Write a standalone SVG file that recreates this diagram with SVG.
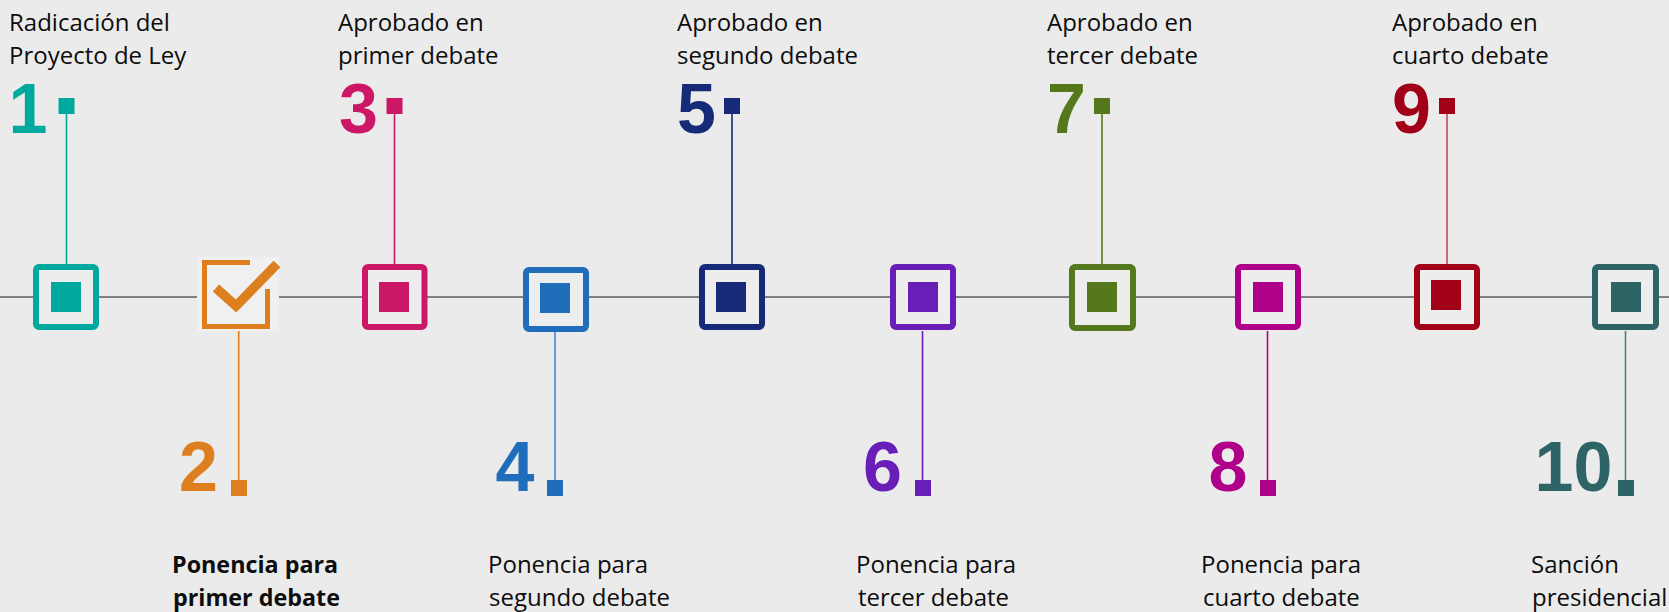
<svg xmlns="http://www.w3.org/2000/svg" width="1669" height="612" viewBox="0 0 1669 612">
<style>
.lbl{font-family:"Open Sans","Liberation Sans",sans-serif;font-size:24px;fill:#0d0d0d}
.b{font-weight:bold;font-size:23.3px}
.num{font-family:"Liberation Sans",Arial,sans-serif;font-weight:bold;font-size:70px;text-anchor:middle}
.box{fill:#ededed;stroke-width:6}
.conn line{stroke-width:1.6}
</style>
<rect width="1669" height="612" fill="#ebebeb"/>
<g id="connectors">
<line x1="0" y1="297" x2="1669" y2="297" stroke="#7f7f7f" stroke-width="2.2"/>
<g class="conn">
<line x1="66.5" y1="110" x2="66.5" y2="265" stroke="#00a99d"/>
<line x1="238.7" y1="331" x2="238.7" y2="485" stroke="#dd7f1e"/>
<line x1="394.5" y1="110" x2="394.5" y2="265" stroke="#cc1766"/>
<line x1="555" y1="331" x2="555" y2="485" stroke="#4a8ad0"/>
<line x1="732" y1="110" x2="732" y2="265" stroke="#162a78"/>
<line x1="922.5" y1="331" x2="922.5" y2="485" stroke="#6a1eb8"/>
<line x1="1102" y1="110" x2="1102" y2="265" stroke="#56781c"/>
<line x1="1267.5" y1="331" x2="1267.5" y2="485" stroke="#ae0088"/>
<line x1="1447" y1="110" x2="1447" y2="265" stroke="#c04a5a"/>
<line x1="1625.5" y1="331" x2="1625.5" y2="485" stroke="#4f7f82"/>
</g>
</g>
<g id="step1">
<rect class="box" x="36" y="267" width="60" height="60" rx="3" stroke="#00a99d"/>
<rect x="51" y="282" width="30" height="30" fill="#00a99d"/>
<rect x="58.5" y="98" width="16" height="16" fill="#00a99d"/>
<text class="num" x="28" y="133" fill="#00a99d">1</text>
<text class="lbl" x="9" y="31">Radicación del</text>
<text class="lbl" x="9" y="64">Proyecto de Ley</text>
</g>
<g id="step2">
<rect x="197" y="257" width="82" height="74" fill="#f0f0f0"/>
<path d="M250 262.5 H204.5 V326.5 H267.5 V289" fill="none" stroke="#dd7f1e" stroke-width="5"/>
<polyline points="216,288 236,306 277,264" fill="none" stroke="#dd7f1e" stroke-width="9.5"/>
<rect x="231" y="480" width="16" height="16" fill="#dd7f1e"/>
<text class="num" x="198.5" y="491" fill="#dd7f1e">2</text>
<text class="lbl b" x="172" y="573">Ponencia para</text>
<text class="lbl b" x="173" y="606">primer debate</text>
</g>
<g id="step3">
<rect class="box" x="365" y="267" width="59.5" height="60" rx="3" stroke="#cc1766"/>
<rect x="379" y="282" width="30" height="30" fill="#cc1766"/>
<rect x="386.5" y="98" width="16" height="16" fill="#cc1766"/>
<text class="num" x="358.5" y="133" fill="#cc1766">3</text>
<text class="lbl" x="338" y="31">Aprobado en</text>
<text class="lbl" x="338" y="64">primer debate</text>
</g>
<g id="step4">
<rect class="box" x="526" y="270" width="60" height="59" rx="3" stroke="#1f6dbb"/>
<rect x="540" y="283" width="30" height="30" fill="#1f6dbb"/>
<rect x="547" y="480" width="16" height="16" fill="#1f6dbb"/>
<text class="num" x="515" y="491" fill="#1f6dbb">4</text>
<text class="lbl" x="488" y="573">Ponencia para</text>
<text class="lbl" x="489" y="606">segundo debate</text>
</g>
<g id="step5">
<rect class="box" x="702" y="267" width="60" height="60" rx="3" stroke="#162a78"/>
<rect x="716" y="282" width="30" height="30" fill="#162a78"/>
<rect x="724" y="98" width="16" height="16" fill="#162a78"/>
<text class="num" x="696.5" y="133" fill="#162a78">5</text>
<text class="lbl" x="677" y="31">Aprobado en</text>
<text class="lbl" x="677" y="64">segundo debate</text>
</g>
<g id="step6">
<rect class="box" x="893" y="267" width="60" height="60" rx="3" stroke="#6a1eb8"/>
<rect x="908" y="282" width="30" height="30" fill="#6a1eb8"/>
<rect x="915" y="480" width="16" height="16" fill="#6a1eb8"/>
<text class="num" x="882.5" y="491" fill="#6a1eb8">6</text>
<text class="lbl" x="856" y="573">Ponencia para</text>
<text class="lbl" x="858" y="606">tercer debate</text>
</g>
<g id="step7">
<rect class="box" x="1072" y="267" width="61" height="61" rx="3" stroke="#56781c"/>
<rect x="1087" y="282" width="30" height="30" fill="#56781c"/>
<rect x="1094" y="98" width="16" height="16" fill="#56781c"/>
<text class="num" x="1066.5" y="133" fill="#56781c">7</text>
<text class="lbl" x="1047" y="31">Aprobado en</text>
<text class="lbl" x="1047" y="64">tercer debate</text>
</g>
<g id="step8">
<rect class="box" x="1238" y="267" width="60" height="60" rx="3" stroke="#ae0088"/>
<rect x="1253" y="282" width="30" height="30" fill="#ae0088"/>
<rect x="1260" y="480" width="16" height="16" fill="#ae0088"/>
<text class="num" x="1228" y="491" fill="#ae0088">8</text>
<text class="lbl" x="1201" y="573">Ponencia para</text>
<text class="lbl" x="1203" y="606">cuarto debate</text>
</g>
<g id="step9">
<rect class="box" x="1417" y="267" width="60" height="60" rx="3" stroke="#a10018"/>
<rect x="1431" y="280" width="30" height="30" fill="#a10018"/>
<rect x="1439" y="98" width="16" height="16" fill="#a10018"/>
<text class="num" x="1411.5" y="133" fill="#a10018">9</text>
<text class="lbl" x="1392" y="31">Aprobado en</text>
<text class="lbl" x="1392" y="64">cuarto debate</text>
</g>
<g id="step10">
<rect class="box" x="1595" y="267" width="61" height="60" rx="3" stroke="#2f6467"/>
<rect x="1611" y="282" width="30" height="30" fill="#2f6467"/>
<rect x="1618" y="480" width="16" height="16" fill="#2f6467"/>
<text class="num" x="1573.5" y="491" fill="#2f6467">10</text>
<text class="lbl" x="1531" y="573">Sanción</text>
<text class="lbl" x="1532" y="606">presidencial</text>
</g>
</svg>
